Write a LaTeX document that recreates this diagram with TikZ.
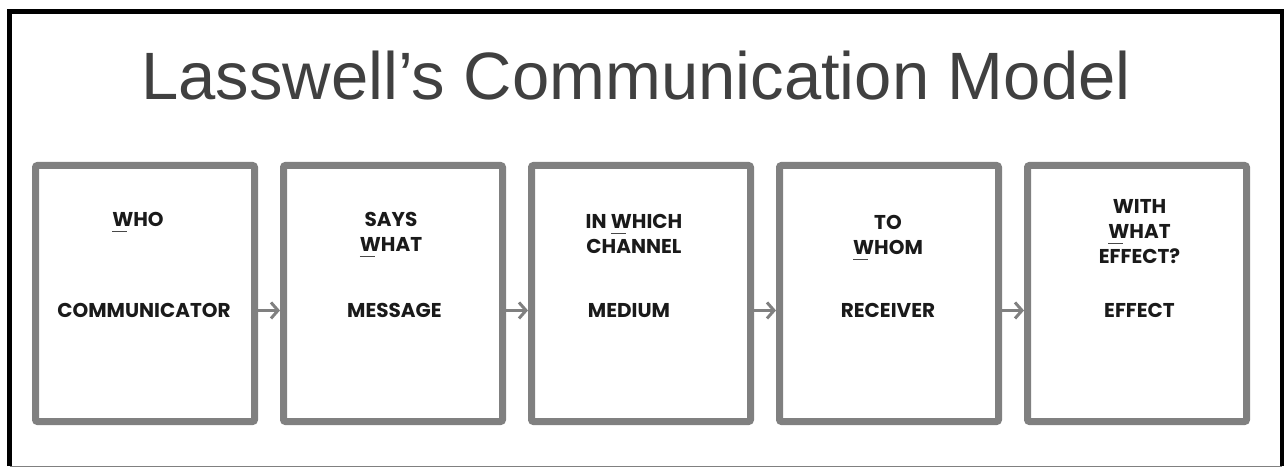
\documentclass[tikz,border=0pt]{standalone}
\usepackage{fontspec}
\setmainfont{Poppins}
\newfontfamily\titlefont{Liberation Sans}
\usetikzlibrary{arrows.meta}

\definecolor{boxgray}{RGB}{128,128,128}
\definecolor{titlegray}{RGB}{64,64,64}
\definecolor{labelblack}{RGB}{26,26,26}

% underline under the W
\newlength\wlen
\newcommand{\wline}[1]{\settowidth{\wlen}{#1}\rlap{\color{labelblack!80}\rule[-5.5pt]{0.7\wlen}{1.4pt}}#1}

\begin{document}
\begin{tikzpicture}[x=1pt, y=-1pt,
	stage/.style={draw=boxgray, line width=7pt, rounded corners=2pt,
		minimum width=219pt, minimum height=256pt, inner sep=0pt},
	ask/.style={anchor=north, align=center, inner sep=0pt, text=labelblack,
		font=\fontsize{20}{25}\selectfont\bfseries},
	role/.style={anchor=base, inner sep=0pt, text=labelblack,
		font=\fontsize{20}{25}\selectfont\bfseries},
	flow/.style={draw=boxgray, line width=3pt, -{Straight Barb[length=7pt, width=16pt]}}]
	\useasboundingbox (0, 0) rectangle (1288, 468);
	
	% frame
	\draw [line width=4.5pt] (9.5, 466) |- (1282, 11.5) -- (1282, 466);
	\draw [boxgray, line width=1pt] (9.5, 466.5) -- (1282, 466.5);
	
	% title
	\node (title) [anchor=base, text=titlegray, inner sep=0pt,
		font=\titlefont\fontsize{67}{80}\selectfont] at (636, 100) {Lasswell’s Communication Model};
	
	% modules
	\node (who) [stage] at (145, 293.5) {};
	\node (what) [stage] at (393, 293.5) {};
	\node (channel) [stage] at (641, 293.5) {};
	\node (whom) [stage] at (889, 293.5) {};
	\node (effect) [stage] at (1137, 293.5) {};
	
	% questions
	\node (whoask) [ask] at (138, 212.5) {\wline{W}HO};
	\node (whatask) [ask] at (391, 212.5) {SAYS\\\wline{W}HAT};
	\node (channelask) [ask] at (634, 214) {IN \wline{W}HICH\\CHANNEL};
	\node (whomask) [ask] at (888, 215.5) {TO\\\wline{W}HOM};
	\node (effectask) [ask] at (1139.5, 199.5) {WITH\\\wline{W}HAT\\EFFECT?};
	
	% roles
	\node (comm) [role] at (144, 317.5) {COMMUNICATOR};
	\node (msg) [role] at (394.5, 317.5) {MESSAGE};
	\node (medium) [role] at (629, 317.5) {MEDIUM};
	\node (recv) [role] at (888, 317.5) {RECEIVER};
	\node (eff) [role] at (1139.5, 317.5) {EFFECT};
	
	% lines
	\draw [flow] (comm -| who.east) -- (comm -| what.west);
	\draw [flow] (comm -| what.east) -- (comm -| channel.west);
	\draw [flow] (comm -| channel.east) -- (comm -| whom.west);
	\draw [flow] (comm -| whom.east) -- (comm -| effect.west);
\end{tikzpicture}
\end{document}
